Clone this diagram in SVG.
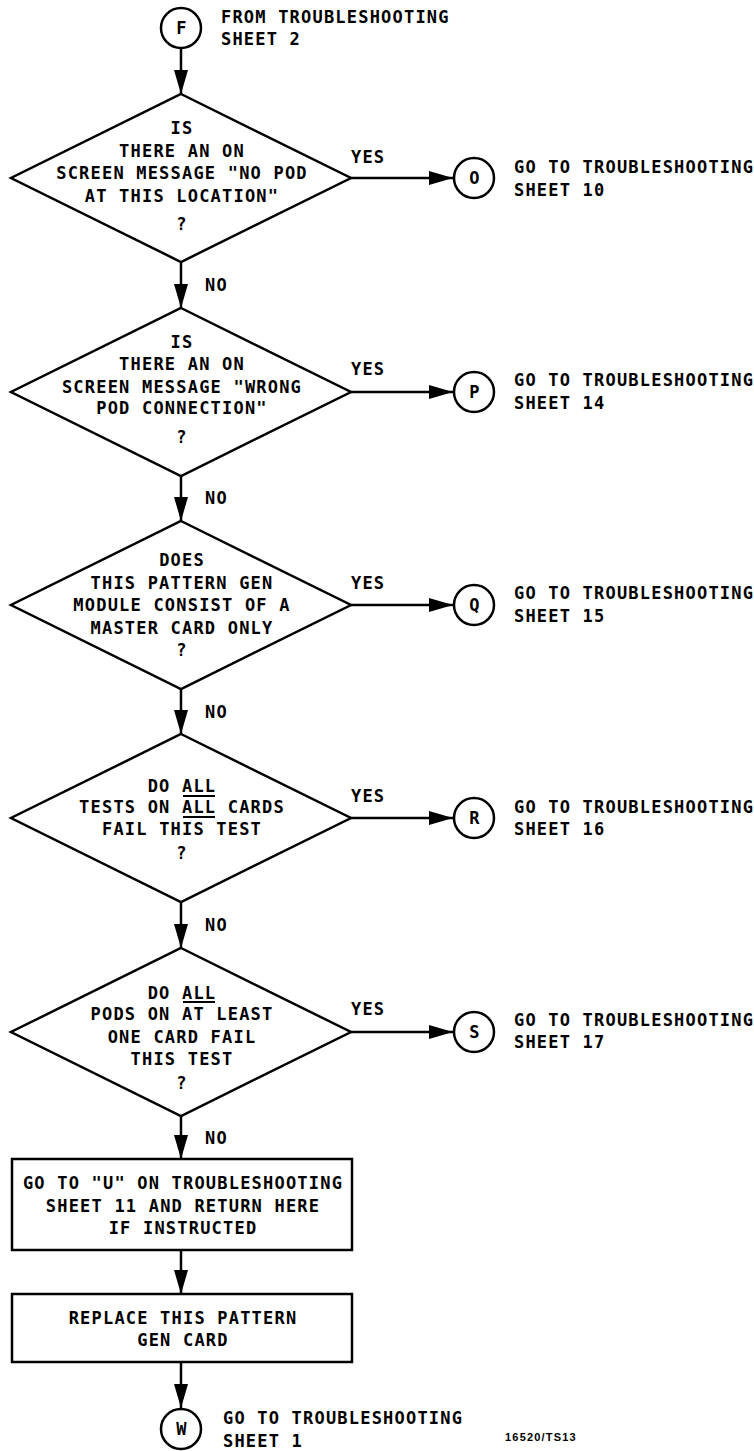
<svg xmlns="http://www.w3.org/2000/svg" width="754" height="1451" viewBox="0 0 754 1451">
<style>
text{font-family:"DejaVu Sans Mono","Liberation Mono",monospace;font-size:17px;letter-spacing:1.2px;fill:#000;font-weight:bold}
.c{text-anchor:middle}
.shape{fill:#fff;stroke:#000;stroke-width:2.5}
.edge{fill:none;stroke:#000;stroke-width:2.5}
.ul{stroke:#000;stroke-width:2}
.id{font-family:"Liberation Sans",Arial,sans-serif;font-size:11px;letter-spacing:1.2px;font-weight:bold}
</style>
<defs>
<marker id="ah" viewBox="0 0 24 14" refX="24" refY="7" markerWidth="24" markerHeight="14" markerUnits="userSpaceOnUse" orient="auto">
<path d="M0,0 L24,7 L0,14 z" fill="#000"/>
</marker>
</defs>
<g id="connectors">
<line class="edge" x1="181" y1="48" x2="181" y2="94" marker-end="url(#ah)"/>
<line class="edge" x1="181" y1="262" x2="181" y2="308" marker-end="url(#ah)"/>
<line class="edge" x1="181" y1="476" x2="181" y2="521" marker-end="url(#ah)"/>
<line class="edge" x1="181" y1="689" x2="181" y2="734" marker-end="url(#ah)"/>
<line class="edge" x1="181" y1="902" x2="181" y2="948" marker-end="url(#ah)"/>
<line class="edge" x1="181" y1="1116" x2="181" y2="1159" marker-end="url(#ah)"/>
<line class="edge" x1="181" y1="1250" x2="181" y2="1294" marker-end="url(#ah)"/>
<line class="edge" x1="181" y1="1362" x2="181" y2="1408" marker-end="url(#ah)"/>
<line class="edge" x1="351" y1="178" x2="453" y2="178" marker-end="url(#ah)"/>
<line class="edge" x1="351" y1="392" x2="453" y2="392" marker-end="url(#ah)"/>
<line class="edge" x1="351" y1="605" x2="453" y2="605" marker-end="url(#ah)"/>
<line class="edge" x1="351" y1="818" x2="453" y2="818" marker-end="url(#ah)"/>
<line class="edge" x1="351" y1="1032" x2="453" y2="1032" marker-end="url(#ah)"/>
<text x="205" y="291">NO</text>
<text x="205" y="504">NO</text>
<text x="205" y="718">NO</text>
<text x="205" y="931">NO</text>
<text x="205" y="1144">NO</text>
<text x="351" y="163">YES</text>
<text x="351" y="375">YES</text>
<text x="351" y="589">YES</text>
<text x="351" y="802">YES</text>
<text x="351" y="1015">YES</text>
</g>
<g id="startF">
<circle class="shape" cx="181" cy="28" r="20"/>
<text class="c" x="182" y="34">F</text>
<text x="221" y="23">FROM TROUBLESHOOTING</text>
<text x="221" y="45">SHEET 2</text>
</g>
<g id="d1">
<polygon class="shape" points="181,94 351,178 181,262 11,178"/>
<text class="c" x="182" y="134">IS</text>
<text class="c" x="182" y="157">THERE AN ON</text>
<text class="c" x="182" y="179">SCREEN MESSAGE "NO POD</text>
<text class="c" x="182" y="202">AT THIS LOCATION"</text>
<text class="c" x="182" y="230">?</text>
</g>
<g id="O">
<circle class="shape" cx="474" cy="178" r="20"/>
<text class="c" x="475" y="184">O</text>
<text x="514" y="173">GO TO TROUBLESHOOTING</text>
<text x="514" y="196">SHEET 10</text>
</g>
<g id="d2">
<polygon class="shape" points="181,308 351,392 181,476 11,392"/>
<text class="c" x="182" y="348">IS</text>
<text class="c" x="182" y="370">THERE AN ON</text>
<text class="c" x="182" y="393">SCREEN MESSAGE "WRONG</text>
<text class="c" x="182" y="414">POD CONNECTION"</text>
<text class="c" x="182" y="443">?</text>
</g>
<g id="P">
<circle class="shape" cx="474" cy="392" r="20"/>
<text class="c" x="475" y="398">P</text>
<text x="514" y="386">GO TO TROUBLESHOOTING</text>
<text x="514" y="409">SHEET 14</text>
</g>
<g id="d3">
<polygon class="shape" points="181,521 351,605 181,689 11,605"/>
<text class="c" x="182" y="566">DOES</text>
<text class="c" x="182" y="589">THIS PATTERN GEN</text>
<text class="c" x="182" y="611">MODULE CONSIST OF A</text>
<text class="c" x="182" y="634">MASTER CARD ONLY</text>
<text class="c" x="182" y="656">?</text>
</g>
<g id="Q">
<circle class="shape" cx="474" cy="605" r="20"/>
<text class="c" x="475" y="611">Q</text>
<text x="514" y="599">GO TO TROUBLESHOOTING</text>
<text x="514" y="622">SHEET 15</text>
</g>
<g id="d4">
<polygon class="shape" points="181,734 351,818 181,902 11,818"/>
<text class="c" x="182" y="792">DO ALL</text>
<line class="ul" x1="183" y1="796" x2="215" y2="796"/>
<text class="c" x="182" y="813">TESTS ON ALL CARDS</text>
<line class="ul" x1="183" y1="817" x2="215" y2="817"/>
<text class="c" x="182" y="835">FAIL THIS TEST</text>
<text class="c" x="182" y="859">?</text>
</g>
<g id="R">
<circle class="shape" cx="474" cy="818" r="20"/>
<text class="c" x="475" y="824">R</text>
<text x="514" y="813">GO TO TROUBLESHOOTING</text>
<text x="514" y="835">SHEET 16</text>
</g>
<g id="d5">
<polygon class="shape" points="181,948 351,1032 181,1116 11,1032"/>
<text class="c" x="182" y="999">DO ALL</text>
<line class="ul" x1="183" y1="1002" x2="215" y2="1002"/>
<text class="c" x="182" y="1020">PODS ON AT LEAST</text>
<text class="c" x="182" y="1043">ONE CARD FAIL</text>
<text class="c" x="182" y="1065">THIS TEST</text>
<text class="c" x="182" y="1089">?</text>
</g>
<g id="S">
<circle class="shape" cx="474" cy="1032" r="20"/>
<text class="c" x="475" y="1038">S</text>
<text x="514" y="1026">GO TO TROUBLESHOOTING</text>
<text x="514" y="1048">SHEET 17</text>
</g>
<g id="box1">
<rect class="shape" x="12" y="1159" width="340" height="91"/>
<text class="c" x="183" y="1189">GO TO "U" ON TROUBLESHOOTING</text>
<text class="c" x="183" y="1212">SHEET 11 AND RETURN HERE</text>
<text class="c" x="183" y="1234">IF INSTRUCTED</text>
</g>
<g id="box2">
<rect class="shape" x="12" y="1294" width="340" height="68"/>
<text class="c" x="183" y="1324">REPLACE THIS PATTERN</text>
<text class="c" x="183" y="1346">GEN CARD</text>
</g>
<g id="W">
<circle class="shape" cx="181" cy="1429" r="20"/>
<text class="c" x="182" y="1435">W</text>
<text x="223" y="1424">GO TO TROUBLESHOOTING</text>
<text x="223" y="1447">SHEET 1</text>
</g>
<text class="id" x="505" y="1441">16520/TS13</text>
</svg>
